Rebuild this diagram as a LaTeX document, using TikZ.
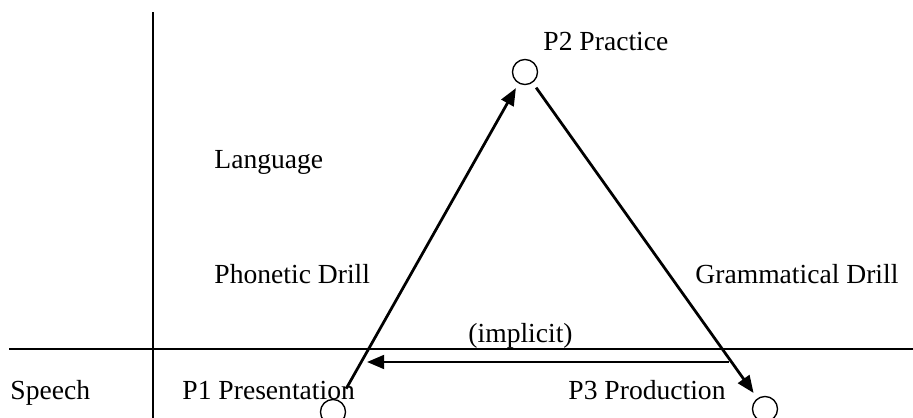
\documentclass[tikz,border=0pt]{standalone}
\usepackage{fontspec}
\setmainfont{Liberation Serif}
\usetikzlibrary{arrows.meta}

\begin{document}
\begin{tikzpicture}[x=0.435pt, y=-0.435pt,
    every node/.style={inner sep=0pt, font=\fontsize{12}{14}\selectfont},
    dot/.style={circle, draw, line width=0.6pt, minimum size=10.9pt},
    lbl/.style={anchor=base west},
    axis/.style={line width=0.6pt},
    arr/.style={line width=1.2pt, -{Triangle[length=7.5pt, width=6pt]}}]
                \useasboundingbox (0,0) rectangle (913,418);
                \foreach \n/\x/\y in {1/333/412, 2/525/72, 3/765/409} {
                    \node[dot] (p\n) at (\x, \y) {};
                }
                \coordinate (hL) at (9, 349);
                \coordinate (hR) at (913, 349);
                \coordinate (vT) at (153, 12);
                \coordinate (vB) at (153, 418);
                \coordinate (impR) at (729, 362);
                \coordinate (impL) at (367, 362);
                \draw[axis] (hL) -- (hR);
                \draw[axis] (vT) -- (vB);
                \node[lbl] (speech) at (10, 399) {Speech};
                \node[lbl] (lang) at (214, 168) {Language};
                \node[lbl] (phon) at (214, 283) {Phonetic Drill};
                \node[lbl] (gram) at (695, 283) {Grammatical Drill};
                \node[lbl] (impl) at (468, 342) {(implicit)};
                \node[lbl] (t1) at (182, 399) {P1 Presentation};
                \node[lbl] (t2) at (543, 51) {P2 Practice};
                \node[lbl] (t3) at (568, 399) {P3 Production};
                \draw[arr, shorten <=5.9pt, shorten >=2.3pt] (p1) -- (p2);
                \draw[arr, shorten <=2.6pt, shorten >=2.8pt] (p2) -- (p3);
                \draw[arr] (impR) -- (impL);
            \end{tikzpicture}
\end{document}
